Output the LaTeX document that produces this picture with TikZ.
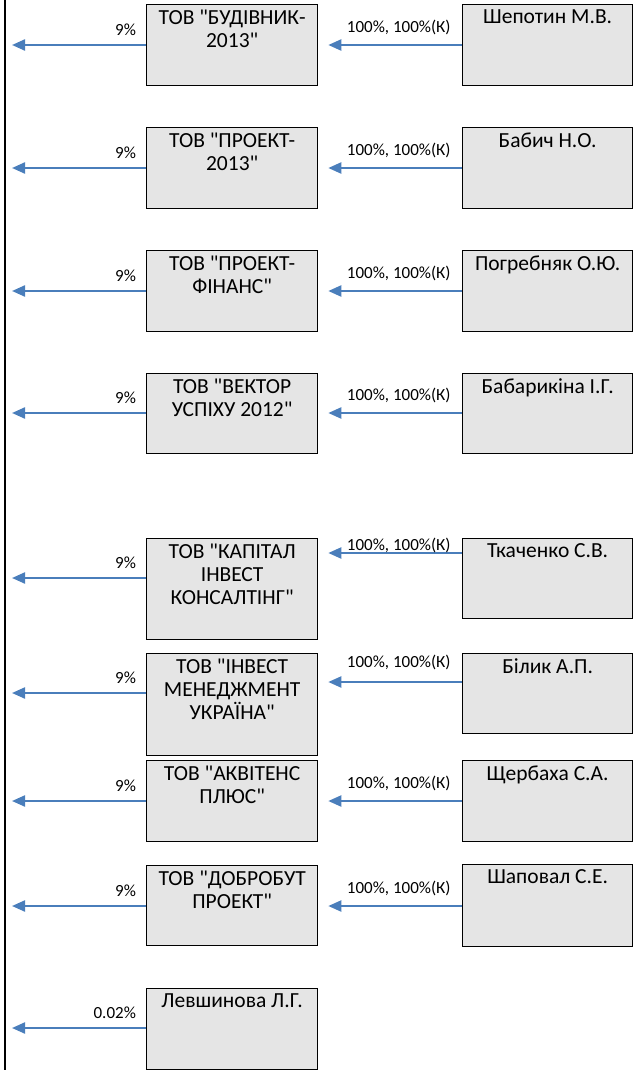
\documentclass[tikz,border=0pt]{standalone}
\usepackage{fontspec}
\setmainfont{Carlito}[Ligatures=TeXOff]
\usepackage{tikz}
\usetikzlibrary{arrows.meta,positioning}
\definecolor{linkblue}{RGB}{74,126,187}

\begin{document}
\begin{tikzpicture}[
  x=1pt, y=-1pt,
  firm/.style={rectangle,draw=black,fill=gray!20,line width=1.3pt,minimum width=171pt,minimum height=81pt,anchor=north west,inner sep=0pt},
  owner/.style={firm,minimum width=170pt},
  boxtext/.style={anchor=north,align=center,inner sep=0pt,yshift=-5.5pt,font=\fontsize{21.5}{23}\selectfont},
  share/.style={font=\fontsize{17}{19}\selectfont,inner sep=0pt},
  arrow/.style={-{Triangle[length=13pt,width=11pt]},line width=2.2pt,draw=linkblue}
]
  \useasboundingbox (0,0) rectangle (637,1070);

  % common line on the left
  \coordinate (bartop) at (5,0);
  \coordinate (barbot) at (5,1070);
  \draw[line width=1.3pt] (bartop) -- (barbot);

  % companies
  \node[firm,label={[boxtext]north:{ТОВ "БУДІВНИК-\\2013"}}] (c1) at (146,4) {};
  \node[firm,label={[boxtext]north:{ТОВ "ПРОЕКТ-\\2013"}}] (c2) at (146,127) {};
  \node[firm,label={[boxtext]north:{ТОВ "ПРОЕКТ-\\ФІНАНС"}}] (c3) at (146,250) {};
  \node[firm,minimum height=80pt,label={[boxtext]north:{ТОВ "ВЕКТОР\\УСПІХУ 2012"}}] (c4) at (146,373) {};
  \node[firm,minimum height=101pt,label={[boxtext]north:{ТОВ "КАПІТАЛ\\ІНВЕСТ\\КОНСАЛТІНГ"}}] (c5) at (146,538) {};
  \node[firm,minimum height=102pt,label={[boxtext]north:{ТОВ "ІНВЕСТ\\МЕНЕДЖМЕНТ\\УКРАЇНА"}}] (c6) at (146,653) {};
  \node[firm,label={[boxtext]north:{ТОВ "АКВІТЕНС\\ПЛЮС"}}] (c7) at (146,760) {};
  \node[firm,minimum height=80pt,label={[boxtext]north:{ТОВ "ДОБРОБУТ\\ПРОЕКТ"}}] (c8) at (146,865) {};
  \node[firm,label={[boxtext]north:{Левшинова Л.Г.}}] (c9) at (146,988) {};

  % owners
  \node[owner,label={[boxtext]north:{Шепотин М.В.}}] (p1) at (462,4) {};
  \node[owner,label={[boxtext]north:{Бабич Н.О.}}] (p2) at (462,127) {};
  \node[owner,label={[boxtext]north:{Погребняк О.Ю.}}] (p3) at (462,250) {};
  \node[owner,minimum height=80pt,label={[boxtext]north:{Бабарикіна І.Г.}}] (p4) at (462,373) {};
  \node[owner,minimum height=80pt,label={[boxtext]north:{Ткаченко С.В.}}] (p5) at (462,538) {};
  \node[owner,minimum height=80pt,label={[boxtext]north:{Білик А.П.}}] (p6) at (462,653) {};
  \node[owner,label={[boxtext]north:{Щербаха С.А.}}] (p7) at (462,760) {};
  \node[owner,minimum height=82pt,label={[boxtext]north:{Шаповал С.Е.}}] (p8) at (462,864) {};

  % shares held in the companies
  \foreach \i/\ay/\ly in {1/45/18,2/168/18,3/291/18,4/413/18,5/553/8,6/682/20,7/801/18,8/906/18}
    \draw[arrow,shorten >=10pt] (p\i.west |- 0,\ay) -- node[share,pos=0.44,yshift=\ly pt] {100\%, 100\%(К)} (c\i.east |- 0,\ay);

  % shares held in the common holder
  \foreach \i/\ay/\pc in {1/45/9\%,2/168/9\%,3/291/9\%,4/413/9\%,5/578/9\%,6/693/9\%,7/801/9\%,8/906/9\%,9/1028/0.02\%}
    \draw[arrow,shorten >=7pt] (c\i.west |- 0,\ay) -- node[share,anchor=east,pos=0,xshift=-9pt,yshift=15pt] {\pc} (bartop |- 0,\ay);
\end{tikzpicture}
\end{document}
